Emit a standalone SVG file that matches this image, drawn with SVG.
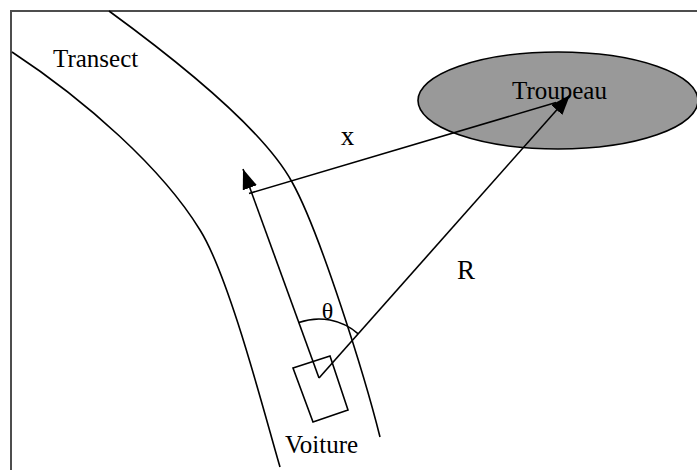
<svg xmlns="http://www.w3.org/2000/svg" width="697" height="470" viewBox="0 0 697 470">
  <style>
    .ln { fill: none; stroke: #000; stroke-width: 1.6; }
    .lbl { font-family: "Liberation Serif", "Times New Roman", serif; font-size: 25px; fill: #000; }
  </style>
  <defs>
    <marker id="ah" markerUnits="userSpaceOnUse" viewBox="0 0 20 15" refX="20" refY="7.5" markerWidth="20" markerHeight="15" orient="auto">
      <path d="M0,0 L20,7.5 L0,15 z" fill="#000"/>
    </marker>
  </defs>
  <rect width="697" height="470" fill="#fff"/>
  <g id="frame">
    <path d="M11,470 L11,11 L697,11" fill="none" stroke="#4d4d4d" stroke-width="2"/>
  </g>
  <g id="transect">
    <path class="ln" d="M12,52 C85,100 162,168 200,230 C230,278 266,420 280,467"/>
    <path class="ln" d="M109,11 C172,57 262,127 292,182 C320,232 365,377 380,437"/>
    <text class="lbl" x="53" y="67">Transect</text>
  </g>
  <g id="troupeau">
    <ellipse cx="558" cy="100.5" rx="140" ry="48.5" fill="#999" stroke="#000" stroke-width="1.6"/>
    <text class="lbl" x="512" y="99">Troupeau</text>
  </g>
  <g id="voiture">
    <polygon class="ln" points="293,368 330,356 348,410 313,422"/>
    <text class="lbl" x="285" y="453">Voiture</text>
  </g>
  <g id="connectors">
    <line class="ln" x1="319" y1="378" x2="243" y2="169" marker-end="url(#ah)"/>
    <line class="ln" x1="249" y1="193.5" x2="556" y2="102.5"/>
    <line class="ln" x1="319" y1="378" x2="570" y2="95" marker-end="url(#ah)"/>
    <path class="ln" d="M298.8,322.6 A59,59 0 0 1 358.2,333.9"/>
  </g>
  <g id="labels">
    <text class="lbl" x="347.5" y="145" text-anchor="middle" style="font-size:27px">x</text>
    <text class="lbl" x="457" y="279" style="font-size:27px">R</text>
    <text class="lbl" x="327.5" y="319" text-anchor="middle" style="font-size:24px">θ</text>
  </g>
</svg>
